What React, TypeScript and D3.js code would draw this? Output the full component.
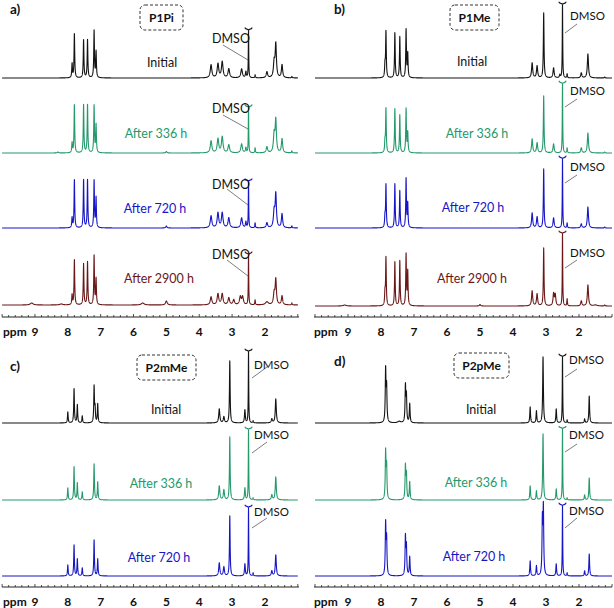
import React from "react";
import * as d3 from "d3";

type Peak = [number, number, number?];

// ---------- data ----------
const TICK_LABELS = [9, 8, 7, 6, 5, 4, 3, 2];
const SPECTRUM_LABELS = ["Initial", "After 336 h", "After 720 h", "After 2900 h"];
const SPECTRUM_COLORS = ["#141414", "#24996c", "#1616c6", "#6a1717"];
const PANEL_TAGS = ["a)", "b)", "c)", "d)"];
const PANEL_NAMES = ["P1Pi", "P1Me", "P2mMe", "P2pMe"];
const DMSO_PPM = 2.5;

// peak lists: [ppm, height, half-width]
const P1PI_INITIAL: Peak[] = [
  [7.87, 14], [7.8, 44], [7.52, 38], [7.4, 38], [7.2, 47], [7.14, 26],
  [3.64, 13, 0.028], [3.43, 14, 0.028], [3.3, 16, 0.028], [3.1, 9, 0.028], [2.71, 9, 0.028], [2.58, 6, 0.015],
  [2.5, 47, 0.008], [2.3, 3, 0.01], [1.94, 6, 0.025], [1.72, 15, 0.025], [1.67, 33, 0.022], [1.48, 13, 0.022], [1.18, 1.5, 0.01],
];
const P1PI_336: Peak[] = [
  [7.87, 10], [7.8, 48], [7.52, 48], [7.4, 48], [7.2, 47], [7.14, 28], [8.3, 1, 0.02], [5.0, 1.5, 0.02],
  [3.64, 12, 0.028], [3.43, 14, 0.028], [3.3, 16, 0.028], [3.1, 8, 0.028], [2.71, 9, 0.028], [2.58, 5, 0.015],
  [2.5, 45, 0.008], [2.3, 5, 0.01], [1.94, 6, 0.025], [1.72, 18, 0.025], [1.67, 32, 0.022], [1.48, 14, 0.022], [1.18, 2, 0.01],
];
const P1PI_720: Peak[] = [
  [7.87, 10], [7.8, 48], [7.52, 48], [7.4, 48], [7.2, 47], [7.14, 30], [5.0, 2, 0.02],
  [3.64, 12, 0.028], [3.43, 15, 0.028], [3.3, 15, 0.028], [3.1, 10, 0.028], [2.71, 10, 0.028], [2.58, 6, 0.015],
  [2.5, 46, 0.008], [2.3, 5, 0.01], [1.94, 5, 0.025], [1.72, 16, 0.025], [1.67, 33, 0.022], [1.48, 14, 0.022], [1.18, 2, 0.01],
];
const P1PI_2900: Peak[] = [
  [7.87, 10], [7.8, 45], [7.52, 41], [7.4, 43], [7.2, 49], [7.14, 26],
  [9.1, 2, 0.05], [8.2, 1, 0.05], [5.72, 2, 0.05], [5.0, 4, 0.03],
  [3.64, 8, 0.028], [3.43, 11, 0.028], [3.3, 11, 0.028], [3.1, 7, 0.028], [2.95, 5, 0.028], [2.75, 8, 0.028], [2.68, 8, 0.028],
  [2.5, 50, 0.008], [2.3, 5, 0.01], [1.94, 3, 0.05], [1.72, 11, 0.025], [1.67, 25, 0.022], [1.48, 9, 0.022], [1.18, 2, 0.01],
];

const P1ME_INITIAL: Peak[] = [
  [7.88, 12], [7.85, 46], [7.58, 45], [7.43, 41], [7.24, 48], [7.19, 24],
  [3.42, 15, 0.02], [3.27, 12, 0.02], [3.07, 65], [2.77, 10, 0.02], [2.58, 3, 0.015],
  [2.5, 73, 0.008], [2.36, 4, 0.01], [1.93, 5, 0.02], [1.73, 24, 0.02], [1.22, 1, 0.01],
];
const P1ME_336: Peak[] = [
  [7.88, 10], [7.85, 44], [7.58, 44], [7.43, 38], [7.24, 44], [7.19, 20],
  [3.42, 14, 0.02], [3.27, 10, 0.02], [3.07, 57], [2.77, 9, 0.02],
  [2.5, 69, 0.008], [2.36, 5, 0.01], [1.93, 5, 0.02], [1.73, 20, 0.02], [1.22, 1, 0.01],
];
const P1ME_720: Peak[] = [
  [7.88, 10], [7.85, 43], [7.58, 44], [7.43, 37], [7.24, 49], [7.19, 24],
  [3.42, 15, 0.02], [3.27, 11, 0.02], [3.07, 59], [2.77, 10, 0.02],
  [2.5, 69, 0.008], [2.36, 5, 0.01], [1.93, 4, 0.02], [1.73, 21, 0.02], [1.22, 1, 0.01],
];
const P1ME_2900: Peak[] = [
  [7.88, 12], [7.85, 48], [7.58, 44], [7.43, 45], [7.24, 51], [7.19, 34], [9.1, 1, 0.05], [5.0, 1.5, 0.02],
  [3.42, 15, 0.02], [3.27, 12, 0.02], [3.07, 58], [2.77, 12, 0.02], [2.72, 11, 0.02],
  [2.5, 72, 0.008], [2.36, 7, 0.01], [1.93, 5, 0.02], [1.73, 21, 0.02], [1.5, 1, 0.05], [1.22, 1, 0.01],
];

const P2MME_INITIAL: Peak[] = [
  [8.0, 11], [7.81, 34], [7.71, 18], [7.56, 7], [7.2, 36], [7.17, 14], [7.09, 19],
  [3.39, 14, 0.02], [3.25, 6, 0.02], [3.07, 62], [2.61, 13, 0.015],
  [2.5, 71, 0.008], [2.36, 2, 0.01], [1.79, 4, 0.02], [1.67, 24, 0.018],
];
const P2MME_336: Peak[] = [
  [8.0, 12], [7.81, 33], [7.71, 17], [7.56, 8], [7.2, 36], [7.09, 18],
  [3.39, 14, 0.02], [3.25, 10, 0.02], [3.07, 63], [2.61, 12, 0.015],
  [2.5, 70, 0.008], [2.36, 2, 0.01], [1.79, 5, 0.02], [1.67, 23, 0.018],
];
const P2MME_720: Peak[] = [
  [8.0, 11], [7.81, 31], [7.71, 17], [7.56, 8], [7.2, 36], [7.09, 17],
  [3.39, 13, 0.02], [3.25, 9, 0.02], [3.07, 60], [2.61, 12, 0.015],
  [2.5, 68, 0.008], [2.36, 3, 0.01], [1.79, 5, 0.02], [1.67, 21, 0.018],
];

const P2PME_INITIAL: Peak[] = [
  [7.86, 52], [7.83, 34], [7.45, 1.5, 0.05], [7.26, 36], [7.23, 26], [7.13, 19],
  [3.48, 16], [3.29, 12], [3.09, 66], [2.69, 14],
  [2.5, 66, 0.008], [2.36, 3, 0.01], [1.83, 4], [1.69, 27],
];
const P2PME_336: Peak[] = [
  [7.86, 47], [7.83, 32], [7.26, 33], [7.23, 24], [7.13, 18],
  [3.48, 14], [3.29, 9], [3.09, 66], [2.69, 11],
  [2.5, 71, 0.008], [2.36, 2, 0.01], [1.83, 5], [1.69, 22],
];
const P2PME_720: Peak[] = [
  [7.86, 51], [7.83, 35], [7.26, 38], [7.23, 28], [7.13, 19],
  [3.48, 15], [3.29, 10], [3.11, 54], [3.08, 66], [2.69, 12],
  [2.5, 70, 0.008], [2.36, 3, 0.01], [1.83, 5], [1.69, 22],
];

// ---------- layout ----------
const leftX = d3.scaleLinear().domain([10, 1]).range([2.1, 297.8]);
const rightX = d3.scaleLinear().domain([10, 1]).range([315, 612]);

type PanelCfg = {
  idx: number;
  x: d3.ScaleLinear<number, number>;
  axisY: number;
  axisRange: [number, number];
  tagPos: [number, number];
  box: [number, number, number, number];
  baselines: number[];
  spectra: Peak[][];
  w0: number;
  labels: [number, number][];
  dmso: { x: number; ys: number[]; size: number };
  leaders: [number, number, number, number][];
  ppmX: number;
};

const PANELS: PanelCfg[] = [
  {
    idx: 0, x: leftX, axisY: 317, axisRange: [2, 299], tagPos: [10, 9], box: [140, 5, 43, 25],
    baselines: [78, 153, 228, 305], spectra: [P1PI_INITIAL, P1PI_336, P1PI_720, P1PI_2900], w0: 0.012,
    labels: [[162, 62], [156, 133], [155, 208], [159, 278]],
    dmso: { x: 212, ys: [38, 108, 184, 254], size: 12.5 },
    leaders: [[223, 45, 248, 60], [223, 115, 248, 129], [227, 189, 248, 205], [227, 260, 248, 276]],
    ppmX: 3,
  },
  {
    idx: 1, x: rightX, axisY: 317, axisRange: [314, 612], tagPos: [334, 9], box: [450, 5, 49, 25],
    baselines: [78, 153, 228, 306], spectra: [P1ME_INITIAL, P1ME_336, P1ME_720, P1ME_2900], w0: 0.012,
    labels: [[472, 61], [477, 133], [473, 207], [472, 278]],
    dmso: { x: 570, ys: [15, 90, 166, 252], size: 11.5 },
    leaders: [[565, 33, 577, 24], [565, 107, 577, 99], [565, 183, 577, 175], [565, 268, 577, 260]],
    ppmX: 314,
  },
  {
    idx: 2, x: leftX, axisY: 587, axisRange: [2, 299], tagPos: [10, 366], box: [137, 355, 59, 25],
    baselines: [423, 500, 576], spectra: [P2MME_INITIAL, P2MME_336, P2MME_720], w0: 0.012,
    labels: [[166, 409], [161, 483], [159, 557]],
    dmso: { x: 254, ys: [364, 434, 511], size: 11.5 },
    leaders: [[252, 378, 267, 367], [252, 453, 267, 442], [252, 528, 267, 518]],
    ppmX: 3,
  },
  {
    idx: 3, x: rightX, axisY: 587, axisRange: [314, 612], tagPos: [334, 361], box: [454, 353, 55, 25],
    baselines: [423, 500, 576], spectra: [P2PME_INITIAL, P2PME_336, P2PME_720], w0: 0.013,
    labels: [[481, 409], [476, 482], [474, 556]],
    dmso: { x: 569, ys: [359, 434, 510], size: 11.5 },
    leaders: [[565, 377, 577, 369], [565, 452, 577, 444], [565, 528, 577, 518]],
    ppmX: 314,
  },
];

const FONT = "Lato, 'Open Sans', sans-serif";

function intensity(peaks: Peak[], ppm: number, w0: number): number {
  let s = 0;
  for (const p of peaks) {
    const w = p[2] ?? w0;
    const d = ppm - p[0];
    s += (p[1] * w * w) / (d * d + w * w);
  }
  return s;
}

function sample(peaks: Peak[], w0: number): [number, number][] {
  const grid = d3.range(10, 0.999, -0.002);
  peaks.forEach((p) => grid.push(p[0]));
  grid.sort((a, b) => b - a);
  return grid.map((ppm) => [ppm, intensity(peaks, ppm, w0)] as [number, number]);
}

function Panel({ cfg }: { cfg: PanelCfg }) {
  const ticks = d3.range(0, 46).map((i) => 10 - i * 0.2);
  return (
    <g>
      {cfg.spectra.map((peaks, si) => {
        const base = cfg.baselines[si];
        const color = SPECTRUM_COLORS[si];
        const pts = sample(peaks, cfg.w0);
        const line = d3
          .line<[number, number]>()
          .x((d) => cfg.x(d[0]))
          .y((d) => base - d[1]);
        const topY = base - intensity(peaks, DMSO_PPM, cfg.w0);
        const dx = cfg.x(DMSO_PPM);
        const brk = `M${dx - 3.5},${topY - 3} C${dx - 3.5},${topY - 0.5} ${dx},${topY - 2} ${dx},${topY} M${dx + 3.5},${topY - 3} C${dx + 3.5},${topY - 0.5} ${dx},${topY - 2} ${dx},${topY}`;
        const [lx1, ly1, lx2, ly2] = cfg.leaders[si];
        return (
          <g key={si}>
            <path d={line(pts) ?? ""} fill="none" stroke={color} strokeWidth={1.1} strokeLinejoin="round" />
            <path d={brk} fill="none" stroke={color} strokeWidth={1.3} />
            <text
              x={cfg.labels[si][0]}
              y={cfg.labels[si][1]}
              textAnchor="middle"
              dominantBaseline="central"
              fontFamily={FONT}
              fontSize={12.5}
              fill={color}
            >
              {SPECTRUM_LABELS[si]}
            </text>
            <line x1={lx1} y1={ly1} x2={lx2} y2={ly2} stroke="#444" strokeWidth={0.7} />
            <text
              x={cfg.dmso.x}
              y={cfg.dmso.ys[si]}
              dominantBaseline="central"
              fontFamily={FONT}
              fontSize={cfg.dmso.size}
              fill="#111"
            >
              DMSO
            </text>
          </g>
        );
      })}
      {/* axis */}
      <line x1={cfg.axisRange[0]} x2={cfg.axisRange[1]} y1={cfg.axisY} y2={cfg.axisY} stroke="#222" strokeWidth={1} />
      {ticks.map((t, i) => (
        <line
          key={i}
          x1={cfg.x(t)}
          x2={cfg.x(t)}
          y1={cfg.axisY}
          y2={cfg.axisY - (i % 5 === 0 ? 3 : 2)}
          stroke="#222"
          strokeWidth={0.8}
        />
      ))}
      <text x={cfg.ppmX} y={cfg.axisY + 14} dominantBaseline="central" fontFamily={FONT} fontWeight="bold" fontSize={12} fill="#111">
        ppm
      </text>
      {TICK_LABELS.map((t) => (
        <text
          key={t}
          x={cfg.x(t)}
          y={cfg.axisY + 14}
          textAnchor="middle"
          dominantBaseline="central"
          fontFamily={FONT}
          fontWeight="bold"
          fontSize={12}
          fill="#111"
        >
          {t}
        </text>
      ))}
      {/* tag and name box */}
      <text x={cfg.tagPos[0]} y={cfg.tagPos[1]} dominantBaseline="central" fontFamily={FONT} fontWeight="bold" fontSize={13.5} fill="#111">
        {PANEL_TAGS[cfg.idx]}
      </text>
      <rect
        x={cfg.box[0]}
        y={cfg.box[1]}
        width={cfg.box[2]}
        height={cfg.box[3]}
        rx={5}
        fill="none"
        stroke="#333"
        strokeWidth={1}
        strokeDasharray="3,2"
      />
      <text
        x={cfg.box[0] + cfg.box[2] / 2}
        y={cfg.box[1] + cfg.box[3] / 2}
        textAnchor="middle"
        dominantBaseline="central"
        fontFamily={FONT}
        fontWeight="bold"
        fontSize={12}
        fill="#111"
      >
        {PANEL_NAMES[cfg.idx]}
      </text>
    </g>
  );
}

export default function App() {
  return (
    <svg
      width={614}
      height={608}
      viewBox="0 0 614 608"
      style={{ position: "absolute", left: 0, top: 0, background: "#fff" }}
    >
      <rect width={614} height={608} fill="#fff" />
      {PANELS.map((p) => (
        <Panel key={p.idx} cfg={p} />
      ))}
    </svg>
  );
}
